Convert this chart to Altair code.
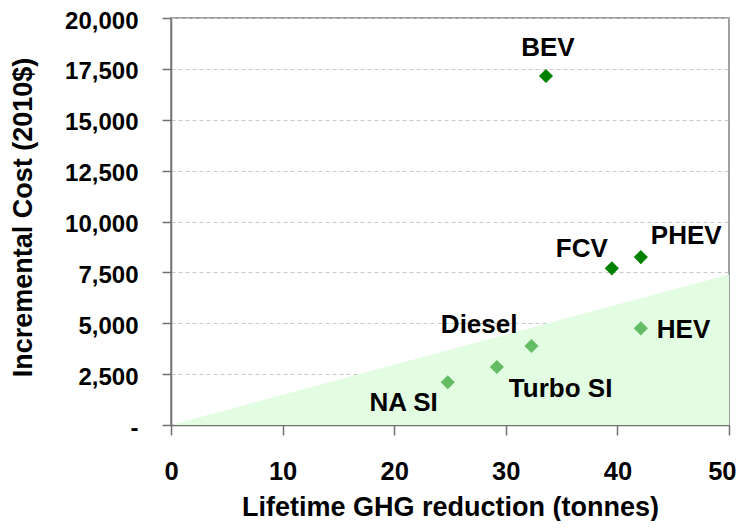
import altair as alt
import pandas as pd

# data
vehicles = ["BEV", "FCV", "PHEV", "HEV", "Diesel", "Turbo SI", "NA SI"]
ghg_reduction = [33.6, 39.5, 42.1, 42.1, 32.3, 29.2, 24.8]
incremental_cost = [17150, 7700, 8250, 4750, 3880, 2850, 2100]
group = ["advanced", "advanced", "advanced", "conventional", "conventional", "conventional", "conventional"]

# break-even region (triangle under cost line)
region_x = [0, 50]
region_y = [0, 7400]

df = pd.DataFrame({"vehicle": vehicles, "ghg": ghg_reduction, "cost": incremental_cost, "group": group})
reg = pd.DataFrame({"ghg": region_x, "cost": region_y})

FONT = "Liberation Sans"
FS = 26

xscale = alt.Scale(domain=[0, 50], nice=False, zero=False)
yscale = alt.Scale(domain=[0, 20000], nice=False)

area = alt.Chart(reg).mark_area(color="#e2fde2", opacity=1).encode(
    x=alt.X("ghg:Q", scale=xscale,
            axis=alt.Axis(title="Lifetime GHG reduction (tonnes)", values=[0, 10, 20, 30, 40, 50],
                          grid=False, tickSize=10, labelPadding=24, titlePadding=10,
                          labelFlush=True, labelFlushOffset=7, labelOverlap=False,
                          labelFontSize=25.5, titleFontSize=27)),
    y=alt.Y("cost:Q", scale=yscale,
            axis=alt.Axis(title="Incremental Cost (2010$)", values=list(range(0, 20001, 2500)),
                          grid=True, tickSize=9, labelPadding=24, labelFlush=False, labelOverlap=False,
                          labelOffset=3, labelFontSize=24, titleFontSize=27,
                          labelExpr="datum.value == 0 ? '-\u00a0\u00a0\u00a0\u00a0' : format(datum.value, ',')",
                          titleX=-148, titleY=199, titleAlign="center", titleBaseline="middle", titleAngle=-90)),
)

points = alt.Chart(df).mark_point(shape="diamond", filled=True, size=200, opacity=1).encode(
    x=alt.X("ghg:Q", scale=xscale),
    y=alt.Y("cost:Q", scale=yscale),
    color=alt.Color("group:N", scale=alt.Scale(domain=["advanced", "conventional"],
                                               range=["#008000", "#63be63"]), legend=None),
)

label_style = {
    "BEV": dict(align="center", dx=2, dy=-20, baseline="alphabetic"),
    "FCV": dict(align="right", dx=-4, dy=-11, baseline="alphabetic"),
    "PHEV": dict(align="left", dx=10, dy=-13, baseline="alphabetic"),
    "HEV": dict(align="left", dx=16, dy=10, baseline="alphabetic"),
    "Diesel": dict(align="right", dx=-14, dy=-13, baseline="alphabetic"),
    "Turbo SI": dict(align="left", dx=12, dy=30, baseline="alphabetic"),
    "NA SI": dict(align="right", dx=-10, dy=29, baseline="alphabetic"),
}

labels = []
for v in vehicles:
    st = label_style[v]
    labels.append(
        alt.Chart(df).transform_filter(alt.datum.vehicle == v).mark_text(
            font=FONT, fontSize=FS, fontWeight="bold", color="#000000", **st
        ).encode(x=alt.X("ghg:Q", scale=xscale), y=alt.Y("cost:Q", scale=yscale), text="vehicle:N")
    )

chart = alt.layer(area, points, *labels).properties(
    width=558, height=407,
    padding={"left": 163, "top": 10, "right": 7, "bottom": 96},
    autosize=alt.AutoSizeParams(type="none"),
    background="white",
).configure_view(
    stroke="#808080", strokeWidth=1.5
).configure_axis(
    labelFont=FONT, titleFont=FONT,
    labelFontWeight="bold", titleFontWeight="bold", labelColor="#000000", titleColor="#000000",
    domainColor="#707070", tickColor="#707070", domainWidth=1.5, tickWidth=1.5,
    gridColor="#c8c8c8", gridDash=[4, 3], gridWidth=1,
)

chart.save("out.html", embed_options={"renderer": "svg", "actions": False})
